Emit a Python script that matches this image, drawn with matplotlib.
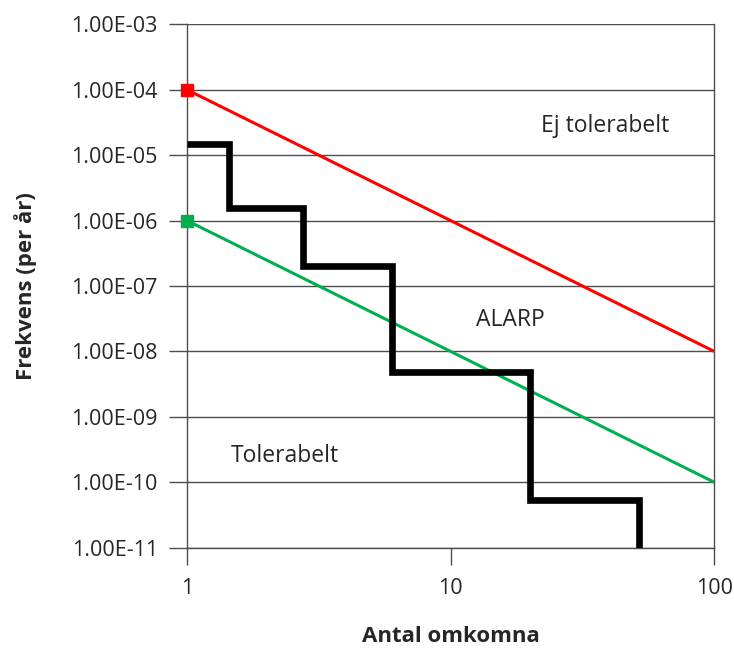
import matplotlib
matplotlib.use("Agg")
import matplotlib.pyplot as plt

plt.rcParams['font.family'] = ['Open Sans', 'DejaVu Sans']

# Data
step_edges = [1, 1.44, 2.76, 6, 20, 52]
step_freq = [1.5e-5, 1.55e-6, 2.0e-7, 4.9e-9, 5.3e-11, 1e-11]
upper_x = [1, 100]
upper_y = [1e-4, 1e-8]
lower_x = [1, 100]
lower_y = [1e-6, 1e-10]
y_ticks = [1e-3, 1e-4, 1e-5, 1e-6, 1e-7, 1e-8, 1e-9, 1e-10, 1e-11]
y_tick_labels = ['1.00E-03', '1.00E-04', '1.00E-05', '1.00E-06', '1.00E-07',
                 '1.00E-08', '1.00E-09', '1.00E-10', '1.00E-11']
x_ticks = [1, 10, 100]
x_tick_labels = ['1', '10', '100']

fig = plt.figure(figsize=(7.34, 6.48), dpi=100)
ax = fig.add_axes([187/734, 1-547.7/648, (714.3-187)/734, (547.7-24.3)/648])
ax.set_xscale('log')
ax.set_yscale('log')
ax.set_xlim(1, 100)
ax.set_ylim(1e-11, 1e-3)

gridc = '#4d4d4d'
txtc = '#262626'
for yv in y_ticks:
    ax.axhline(yv, color=gridc, lw=1.0, zorder=1)

ax.plot(upper_x, upper_y, color='#FF0000', lw=2.2, zorder=3)
ax.plot(upper_x[:1], upper_y[:1], marker='s', color='#FF0000', ms=8, ls='none', zorder=4, clip_on=False)
ax.plot(lower_x, lower_y, color='#00B050', lw=2.2, zorder=3)
ax.plot(lower_x[:1], lower_y[:1], marker='s', color='#00B050', ms=8, ls='none', zorder=4, clip_on=False)

ax.step(step_edges, step_freq, where='post', color='black', lw=4.8,
        solid_joinstyle='miter', solid_capstyle='butt', zorder=5)

ax.set_yticks(y_ticks)
ax.set_yticklabels(y_tick_labels)
ax.set_xticks(x_ticks)
ax.set_xticklabels(x_tick_labels)
ax.minorticks_off()
ax.tick_params(axis='y', direction='out', length=13, width=1.0, color=gridc,
               labelsize=15.5, pad=8, labelcolor=txtc)
ax.tick_params(axis='x', direction='out', length=12, width=1.0, color=gridc,
               labelsize=15.5, pad=10, labelcolor=txtc)

ax.spines['top'].set_visible(False)
for s in ['left', 'right', 'bottom']:
    ax.spines[s].set_color(gridc)
    ax.spines[s].set_linewidth(1.0)

ax.text(38.5, 2.79e-5, 'Ej tolerabelt', fontsize=16.5, ha='center', va='center', color=txtc)
ax.text(16.9, 3.03e-8, 'ALARP', fontsize=16.5, ha='center', va='center', color=txtc)
ax.text(2.35, 2.52e-10, 'Tolerabelt', fontsize=16.5, ha='center', va='center', color=txtc)

fig.text(26/734, 1-286/648, 'Frekvens (per år)', fontsize=16, fontweight='bold',
         rotation=90, ha='center', va='center', color=txtc)
fig.text(451/734, 1-636/648, 'Antal omkomna', fontsize=16, fontweight='bold',
         ha='center', va='center', color=txtc)

fig.savefig('out.png', dpi=100)
